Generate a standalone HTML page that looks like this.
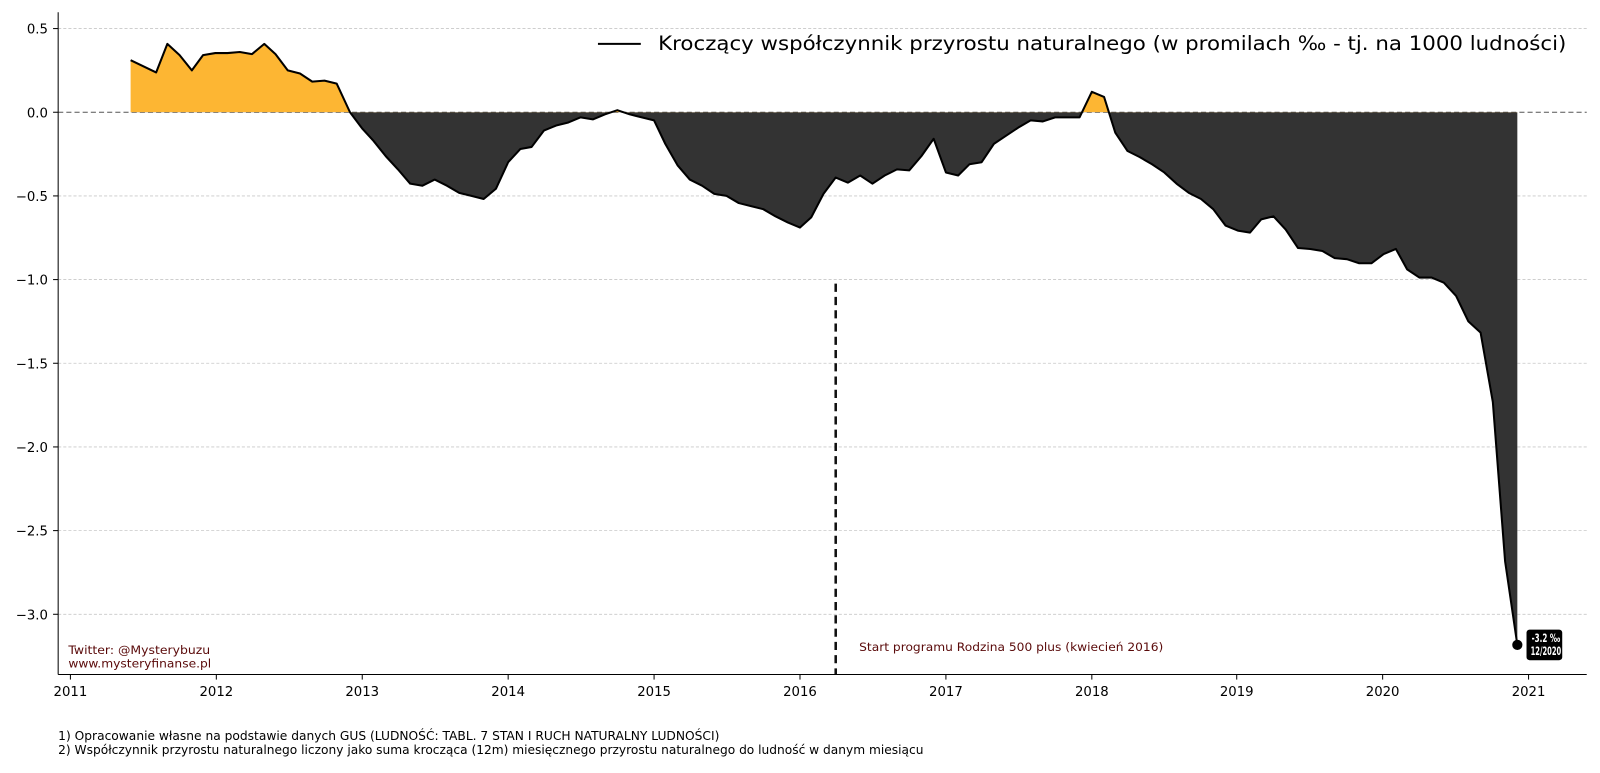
<!DOCTYPE html>
<html><head><meta charset="utf-8"><style>
body{margin:0;background:#fff;width:1600px;height:768px;overflow:hidden}
text{font-family:"DejaVu Sans","Liberation Sans",sans-serif}
</style></head><body>
<svg width="1600" height="768" viewBox="0 0 1600 768">
<defs>
<clipPath id="up"><rect x="0" y="0" width="1600" height="110"/></clipPath>
<clipPath id="dn"><rect x="0" y="110" width="1600" height="700"/></clipPath>
</defs>
<g transform="scale(1.0204)">
<g stroke="#c8c8c8" stroke-width="0.8" stroke-dasharray="3,2">
<line x1="57" x2="1555" y1="28" y2="28"/><line x1="57" x2="1555" y1="192" y2="192"/>
<line x1="57" x2="1555" y1="274" y2="274"/><line x1="57" x2="1555" y1="356" y2="356"/>
<line x1="57" x2="1555" y1="438" y2="438"/><line x1="57" x2="1555" y1="520" y2="520"/>
<line x1="57" x2="1555" y1="602" y2="602"/>
</g>
<line x1="57" x2="1555" y1="110" y2="110" stroke="#555" stroke-width="1" stroke-dasharray="5,3"/>
<polygon clip-path="url(#up)" fill="#fdb633" points="128,110 128,59 153,71 164,43 176,54 188,69 199,54 211,52 223,52 235,51 247,53 259,43 270,53 282,69 294,72 306,80 318,79 330,82 343,110 355,126 366,138 378,153 390,166 402,180 414,182 426,176 438,182 450,189 462,192 474,195 486,185 498,159 510,146 521,144 533,128 545,123 557,120 569,115 581,117 593,112 605,108 617,112 629,115 641,118 652,141 664,162 676,176 688,182 700,190 712,192 724,199 736,202 748,205 760,212 772,218 784,223 795,213 807,190 819,174 831,179 843,172 855,180 867,172 879,166 891,167 903,153 915,136 927,169 939,172 950,161 962,159 974,141 986,133 998,125 1010,118 1022,119 1034,115 1046,115 1058,115 1070,90 1082,95 1093,130 1105,148 1117,154 1129,161 1141,169 1153,180 1165,189 1177,195 1189,205 1201,221 1213,226 1225,228 1236,215 1248,212 1260,225 1272,243 1284,244 1296,246 1308,253 1320,254 1332,258 1344,258 1356,249 1368,244 1379,264 1391,272 1403,272 1415,277 1427,290 1439,315 1451,326 1463,394 1475,550 1487,632 1487,110"/>
<polygon clip-path="url(#dn)" fill="#333" points="128,110 128,59 153,71 164,43 176,54 188,69 199,54 211,52 223,52 235,51 247,53 259,43 270,53 282,69 294,72 306,80 318,79 330,82 343,110 355,126 366,138 378,153 390,166 402,180 414,182 426,176 438,182 450,189 462,192 474,195 486,185 498,159 510,146 521,144 533,128 545,123 557,120 569,115 581,117 593,112 605,108 617,112 629,115 641,118 652,141 664,162 676,176 688,182 700,190 712,192 724,199 736,202 748,205 760,212 772,218 784,223 795,213 807,190 819,174 831,179 843,172 855,180 867,172 879,166 891,167 903,153 915,136 927,169 939,172 950,161 962,159 974,141 986,133 998,125 1010,118 1022,119 1034,115 1046,115 1058,115 1070,90 1082,95 1093,130 1105,148 1117,154 1129,161 1141,169 1153,180 1165,189 1177,195 1189,205 1201,221 1213,226 1225,228 1236,215 1248,212 1260,225 1272,243 1284,244 1296,246 1308,253 1320,254 1332,258 1344,258 1356,249 1368,244 1379,264 1391,272 1403,272 1415,277 1427,290 1439,315 1451,326 1463,394 1475,550 1487,632 1487,110"/>
<polyline fill="none" stroke="#000" stroke-width="2" stroke-linejoin="round" points="128,59 153,71 164,43 176,54 188,69 199,54 211,52 223,52 235,51 247,53 259,43 270,53 282,69 294,72 306,80 318,79 330,82 343,110 355,126 366,138 378,153 390,166 402,180 414,182 426,176 438,182 450,189 462,192 474,195 486,185 498,159 510,146 521,144 533,128 545,123 557,120 569,115 581,117 593,112 605,108 617,112 629,115 641,118 652,141 664,162 676,176 688,182 700,190 712,192 724,199 736,202 748,205 760,212 772,218 784,223 795,213 807,190 819,174 831,179 843,172 855,180 867,172 879,166 891,167 903,153 915,136 927,169 939,172 950,161 962,159 974,141 986,133 998,125 1010,118 1022,119 1034,115 1046,115 1058,115 1070,90 1082,95 1093,130 1105,148 1117,154 1129,161 1141,169 1153,180 1165,189 1177,195 1189,205 1201,221 1213,226 1225,228 1236,215 1248,212 1260,225 1272,243 1284,244 1296,246 1308,253 1320,254 1332,258 1344,258 1356,249 1368,244 1379,264 1391,272 1403,272 1415,277 1427,290 1439,315 1451,326 1463,394 1475,550 1487,632"/>
<circle cx="1487" cy="632" r="5" fill="#000"/>
<line x1="819" x2="819" y1="278" y2="661" stroke="#111" stroke-width="2.5" stroke-dasharray="8,5"/>
<line x1="57" x2="57" y1="12" y2="661" stroke="#000" stroke-width="1"/>
<line x1="57" x2="1555" y1="661" y2="661" stroke="#000" stroke-width="1"/>
<g font-size="13" fill="#000" text-anchor="end">
<text x="47" y="33">0.5</text><text x="47" y="115">0.0</text><text x="47" y="197">−0.5</text>
<text x="47" y="279">−1.0</text><text x="47" y="361">−1.5</text><text x="47" y="443">−2.0</text>
<text x="47" y="525">−2.5</text><text x="47" y="607">−3.0</text>
</g>
<g stroke="#000"><line x1="52" x2="57" y1="28" y2="28"/><line x1="52" x2="57" y1="110" y2="110"/><line x1="52" x2="57" y1="192" y2="192"/><line x1="52" x2="57" y1="274" y2="274"/><line x1="52" x2="57" y1="356" y2="356"/><line x1="52" x2="57" y1="438" y2="438"/><line x1="52" x2="57" y1="520" y2="520"/><line x1="52" x2="57" y1="602" y2="602"/>
<line x1="69" x2="69" y1="661" y2="666"/><line x1="212" x2="212" y1="661" y2="666"/><line x1="355" x2="355" y1="661" y2="666"/><line x1="498" x2="498" y1="661" y2="666"/><line x1="641" x2="641" y1="661" y2="666"/><line x1="784" x2="784" y1="661" y2="666"/><line x1="927" x2="927" y1="661" y2="666"/><line x1="1070" x2="1070" y1="661" y2="666"/><line x1="1212" x2="1212" y1="661" y2="666"/><line x1="1355" x2="1355" y1="661" y2="666"/><line x1="1498" x2="1498" y1="661" y2="666"/></g>
<g font-size="13" fill="#000" text-anchor="middle">
<text x="69" y="682">2011</text><text x="212" y="682">2012</text><text x="355" y="682">2013</text><text x="498" y="682">2014</text><text x="641" y="682">2015</text><text x="784" y="682">2016</text><text x="927" y="682">2017</text><text x="1070" y="682">2018</text><text x="1212" y="682">2019</text><text x="1355" y="682">2020</text><text x="1498" y="682">2021</text>
</g>
<line x1="586" x2="628" y1="43" y2="43" stroke="#000" stroke-width="2"/>
<text x="645" y="49" font-size="19" fill="#000" textLength="890" lengthAdjust="spacingAndGlyphs">Kroczący współczynnik przyrostu naturalnego (w promilach ‰ - tj. na 1000 ludności)</text>
<rect x="1496" y="617" width="35" height="30" rx="3" fill="#000"/>
<text x="1501" y="629" font-size="11" font-weight="bold" fill="#fff" textLength="28" lengthAdjust="spacingAndGlyphs">-3.2 ‰</text>
<text x="1500" y="642" font-size="11" font-weight="bold" fill="#fff" textLength="30" lengthAdjust="spacingAndGlyphs">12/2020</text>
<g font-size="11" fill="#5a0a0a">
<text x="67" y="641" textLength="139" lengthAdjust="spacingAndGlyphs">Twitter: @Mysterybuzu</text>
<text x="67" y="654" textLength="140" lengthAdjust="spacingAndGlyphs">www.mysteryfinanse.pl</text>
<text x="842" y="638" textLength="298" lengthAdjust="spacingAndGlyphs">Start programu Rodzina 500 plus (kwiecień 2016)</text>
</g>
<g font-size="11.8" fill="#000">
<text x="57" y="725" textLength="648" lengthAdjust="spacingAndGlyphs">1) Opracowanie własne na podstawie danych GUS (LUDNOŚĆ: TABL. 7 STAN I RUCH NATURALNY LUDNOŚCI)</text>
<text x="57" y="739" textLength="848" lengthAdjust="spacingAndGlyphs">2) Współczynnik przyrostu naturalnego liczony jako suma krocząca (12m) miesięcznego przyrostu naturalnego do ludność w danym miesiącu</text>
</g>
</g>
</svg>
</body></html>
